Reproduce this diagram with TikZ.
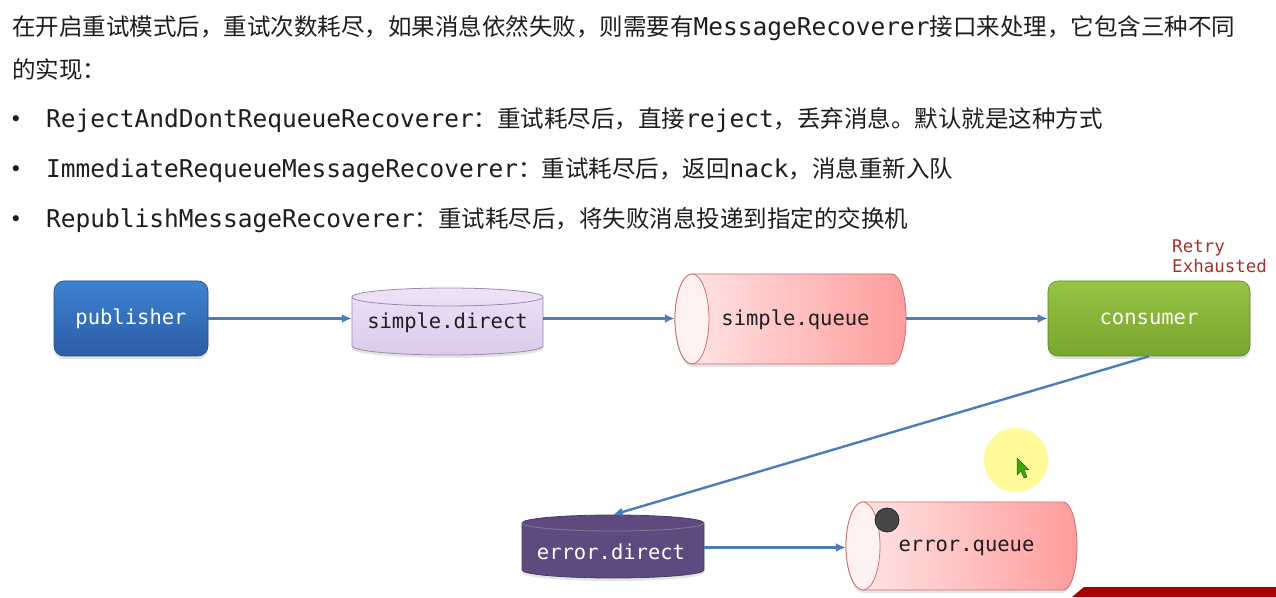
\documentclass[tikz,border=0pt]{standalone}
\usepackage{fontspec}
\newfontfamily\cjk{Noto Sans CJK SC}
\newfontfamily\monof{DejaVu Sans Mono}
\usetikzlibrary{arrows.meta,shadows,calc}
\newcommand\C[1]{{\cjk\fontsize{23.5}{28}\selectfont #1}}
\newcommand\M[1]{{\monof\fontsize{24.5}{28}\selectfont #1}}
\definecolor{txt}{HTML}{1E1E1E}
\definecolor{arrowblue}{HTML}{4A7DBB}
\definecolor{pubtop}{HTML}{3F82D3}
\definecolor{pubbot}{HTML}{2A5DA3}
\definecolor{contop}{HTML}{96C443}
\definecolor{conbot}{HTML}{78A52C}
\definecolor{sdtop}{HTML}{EEE2F7}
\definecolor{sdbot}{HTML}{DCC9EC}
\definecolor{sdline}{HTML}{9C8CAC}
\definecolor{edfill}{HTML}{5E4A7E}
\definecolor{edline}{HTML}{4A3A66}
\definecolor{qleft}{HTML}{FFE8E8}
\definecolor{qright}{HTML}{FF9C9C}
\definecolor{qline}{HTML}{C87070}
\definecolor{retry}{HTML}{A3332C}
\tikzset{
  box/.style={rounded corners=10pt, draw=#1!80!black, line width=0.6pt, inner sep=0pt,
    drop shadow={opacity=0.25, shadow xshift=0pt, shadow yshift=-3pt}},
  lbl/.style={font=\monof\fontsize{20.5}{24}\selectfont, text=txt, inner sep=0pt},
  wlbl/.style={font=\monof\fontsize{20.5}{24}\selectfont, text=white, inner sep=0pt},
  anchorbox/.style={rectangle, inner sep=0pt},
  dotmark/.style={inner sep=0, text=txt, font=\monof\fontsize{21}{24}\selectfont},
  flow/.style={draw=arrowblue, line width=2.4pt, -{Latex[length=10pt,width=9pt]}},
}
\begin{document}
\begin{tikzpicture}[x=1pt,y=1pt]
\useasboundingbox[fill=white] (0,0) rectangle (1276,597);

% ---------- text ----------
\node[anchor=base west, inner sep=0, text=txt] (t1) at (12,561)
  {\C{在开启重试模式后，重试次数耗尽，如果消息依然失败，则需要有}\M{MessageRecoverer}\C{接口来处理，它包含三种不同}};
\node[anchor=base west, inner sep=0, text=txt] (t2) at (12,518) {\C{的实现：}};
\node[dotmark] (d1) at (16,476) {•};
\node[dotmark] (d2) at (16,426) {•};
\node[dotmark] (d3) at (16,376) {•};
\node[anchor=base west, inner sep=0, text=txt] (i1) at (46,469)
  {\M{RejectAndDontRequeueRecoverer}\C{：重试耗尽后，直接}\M{reject}\C{，丢弃消息。默认就是这种方式}};
\node[anchor=base west, inner sep=0, text=txt] (i2) at (46,419)
  {\M{ImmediateRequeueMessageRecoverer}\C{：重试耗尽后，返回}\M{nack}\C{，消息重新入队}};
\node[anchor=base west, inner sep=0, text=txt] (i3) at (46,369)
  {\M{RepublishMessageRecoverer}\C{：重试耗尽后，将失败消息投递到指定的交换机}};

% ---------- publisher ----------
\node[box=pubbot, top color=pubtop, bottom color=pubbot, minimum width=154pt, minimum height=75pt, wlbl]
  (pub) at (131,278.5) {publisher};

% ---------- simple.direct (vertical cylinder) ----------
\path[draw=sdline, line width=0.8pt, top color=sdtop, bottom color=sdbot,
      drop shadow={opacity=0.2, shadow xshift=0pt, shadow yshift=-3pt}]
  (352,300) -- (352,251) arc[start angle=180, end angle=360, x radius=95.5, y radius=9]
  -- (543,300) arc[start angle=0, end angle=180, x radius=95.5, y radius=9] -- cycle;
\draw[sdline, line width=0.8pt] (352,300) arc[start angle=180, end angle=360, x radius=95.5, y radius=9];
\node[anchorbox, minimum width=191pt, minimum height=67pt] (sd) at (447.5,275.5) {};
\node[lbl] (sdt) at ($(sd.center)+(0,-1)$) {simple.direct};

% ---------- simple.queue (horizontal cylinder) ----------
\path[draw=qline, line width=0.8pt, left color=qleft, right color=qright,
      drop shadow={opacity=0.2, shadow xshift=0pt, shadow yshift=-3pt}]
  (692,323) -- (892,323) arc[start angle=90, end angle=-90, x radius=14, y radius=45]
  -- (692,233) arc[start angle=270, end angle=90, x radius=17, y radius=45] -- cycle;
\draw[qline, line width=0.8pt, fill=qleft!60!white] (692,278) ellipse[x radius=17, y radius=45];
\node[anchorbox, minimum width=231pt, minimum height=90pt] (sq) at (790.5,278) {};
\node[lbl] (sqt) at ($(sq.center)+(5,-1)$) {simple.queue};

% ---------- consumer ----------
\node[box=conbot, top color=contop, bottom color=conbot, minimum width=202pt, minimum height=75pt, wlbl]
  (con) at (1149,278.5) {consumer};
\node[anchor=west, inner sep=0, text=retry, font=\monof\fontsize{17.5}{21}\selectfont,
      align=left] (rx) at (1172,341) {Retry\\[-1pt]Exhausted};

% ---------- error.direct (vertical cylinder) ----------
\path[draw=edline, line width=0.8pt, fill=edfill,
      drop shadow={opacity=0.2, shadow xshift=0pt, shadow yshift=-3pt}]
  (522,74) -- (522,27) arc[start angle=180, end angle=360, x radius=91, y radius=8]
  -- (704,74) arc[start angle=0, end angle=180, x radius=91, y radius=8] -- cycle;
\draw[edline!70!white, line width=0.8pt] (522,74) arc[start angle=180, end angle=360, x radius=91, y radius=8];
\node[anchorbox, minimum width=182pt, minimum height=63pt] (ed) at (613,50.5) {};
\node[wlbl] (edt) at ($(ed.center)+(-2,-5)$) {error.direct};

% ---------- error.queue (horizontal cylinder) ----------
\path[draw=qline, line width=0.8pt, left color=qleft, right color=qright,
      drop shadow={opacity=0.2, shadow xshift=0pt, shadow yshift=-3pt}]
  (863,95) -- (1063,95) arc[start angle=90, end angle=-90, x radius=14, y radius=44]
  -- (863,7) arc[start angle=270, end angle=90, x radius=17, y radius=44] -- cycle;
\draw[qline, line width=0.8pt, fill=qleft!60!white] (863,51) ellipse[x radius=17, y radius=44];
\node[anchorbox, minimum width=231pt, minimum height=88pt] (eq) at (961.5,51) {};
\node[lbl] (eqt) at ($(eq.center)+(5,-2)$) {error.queue};
\node[circle, fill=black!72, draw=black!85, line width=0.8pt, minimum size=24pt, inner sep=0] (dot) at (887,77) {};

% ---------- connectors ----------
\draw[flow] (pub.east) -- (pub.east -| sd.west);
\draw[flow] (sd.east |- pub.east) -- (pub.east -| sq.west);
\draw[flow] (sq.east |- pub.east) -- (pub.east -| con.west);
\draw[flow] (con.south) -- (ed.north);
\draw[flow] ($(ed.east)+(0,-1)$) -- ($(ed.east -| eq.west)+(0,-1)$);

% ---------- pointer highlight ----------
\node[circle, fill=yellow!40, minimum size=64pt, inner sep=0] (hl) at (1016,137) {};
\filldraw[fill=green!60!black!80!yellow, draw=black!70, line width=0.5pt]
  (1017,139) -- (1017,122) -- (1021,126) -- (1024,119) -- (1027,120) -- (1024,127) -- (1029,127) -- cycle;

% ---------- banner corner ----------
\fill[red!65!black] (1072,0) -- (1084,10) -- (1276,10) -- (1276,0) -- cycle;
\end{tikzpicture}
\end{document}
